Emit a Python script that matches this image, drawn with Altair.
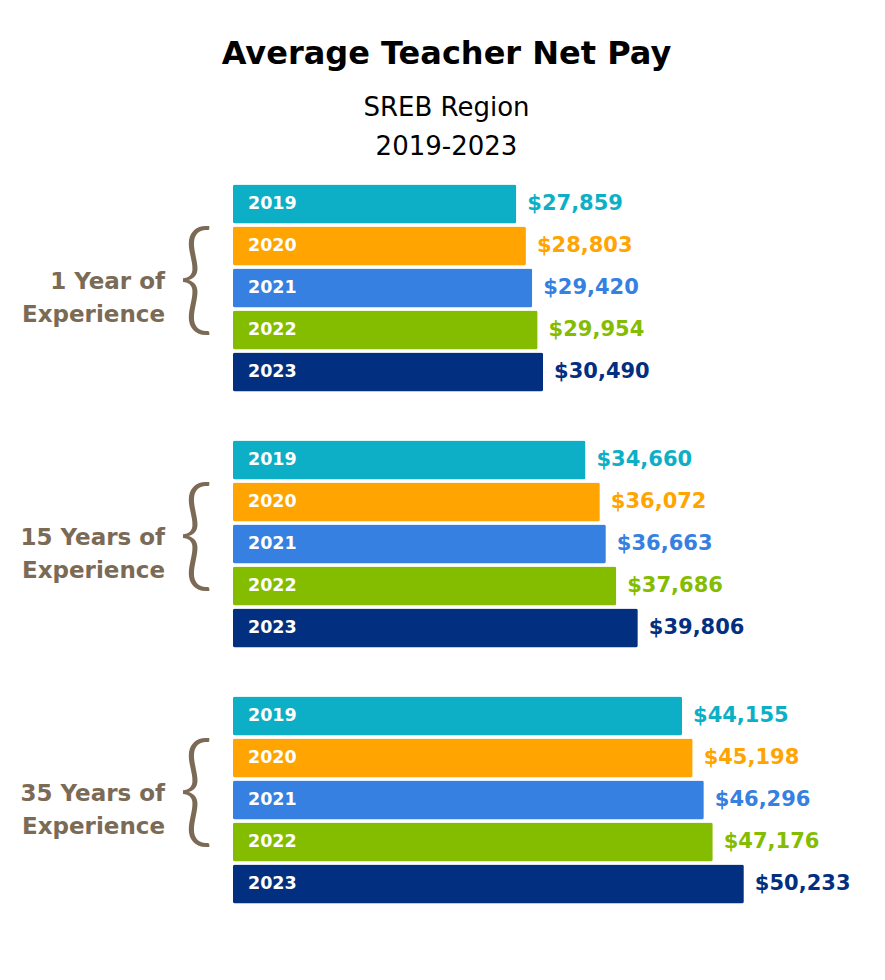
import altair as alt
import pandas as pd

years = ["2019", "2020", "2021", "2022", "2023"]
colors = ["#0DAFC6", "#FFA400", "#3580E0", "#84BC00", "#032F80"]
group_labels = ["1 Year of\nExperience", "15 Years of\nExperience", "35 Years of\nExperience"]
pay_1yr = [27859, 28803, 29420, 29954, 30490]
pay_15yr = [34660, 36072, 36663, 37686, 39806]
pay_35yr = [44155, 45198, 46296, 47176, 50233]

BOLD = "DejaVu Sans"
BROWN = "#7B6A55"


def panel(values, label):
    df = pd.DataFrame({
        "year": years,
        "pay": values,
        "label": [f"${v:,}" for v in values],
    })
    base = alt.Chart(df)
    y = alt.Y("year:N", axis=None, sort=years,
              scale=alt.Scale(paddingInner=0.07, paddingOuter=0.035))
    x = alt.X("pay:Q", axis=None, scale=alt.Scale(domain=[0, 59000]))
    col = alt.Color("year:N", scale=alt.Scale(domain=years, range=colors), legend=None)
    bars = base.mark_bar(cornerRadius=2).encode(x=x, y=y, color=col)
    yr = base.mark_text(align="left", baseline="middle", font=BOLD, fontSize=17.5,
                        fontWeight="bold", color="white").encode(
        x=alt.value(15), y=y, text="year:N")
    val = base.mark_text(align="left", baseline="middle", dx=11, font=BOLD, fontSize=21,
                         fontWeight="bold").encode(x=x, y=y, text="label:N", color=col)
    grp = alt.Chart(pd.DataFrame({"t": [label]})).mark_text(
        align="right", baseline="middle", font=BOLD, fontSize=23, fontWeight="bold",
        color=BROWN, lineBreak="\n", lineHeight=33).encode(
        x=alt.value(-68), y=alt.value(99), text="t:N")
    brace = alt.Chart(pd.DataFrame({"t": ["{"]})).mark_text(
        align="center", baseline="middle", font="Lato", fontSize=122, fontWeight=300,
        color=BROWN).encode(x=alt.value(-37), y=alt.value(99), text="t:N")
    return alt.layer(bars, yr, val, grp, brace).properties(width=600, height=210)


chart = alt.vconcat(
    panel(pay_1yr, group_labels[0]),
    panel(pay_15yr, group_labels[1]),
    panel(pay_35yr, group_labels[2]),
    spacing=46,
).properties(
    title=alt.TitleParams(
        text="Average Teacher Net Pay",
        subtitle=["SREB Region", "2019-2023"],
        font=BOLD, fontSize=32, fontWeight="bold", color="black", dx=11,
        subtitleFont="DejaVu Sans", subtitleFontSize=26, subtitleColor="black",
        subtitleFontWeight="normal", subtitleLineHeight=39, subtitlePadding=24,
        anchor="middle", offset=22,
    ),
    padding={"left": 12, "top": 30, "right": 5, "bottom": 5},
).configure_view(stroke=None)

chart.save("out.html", embed_options={"renderer": "svg", "actions": False})
